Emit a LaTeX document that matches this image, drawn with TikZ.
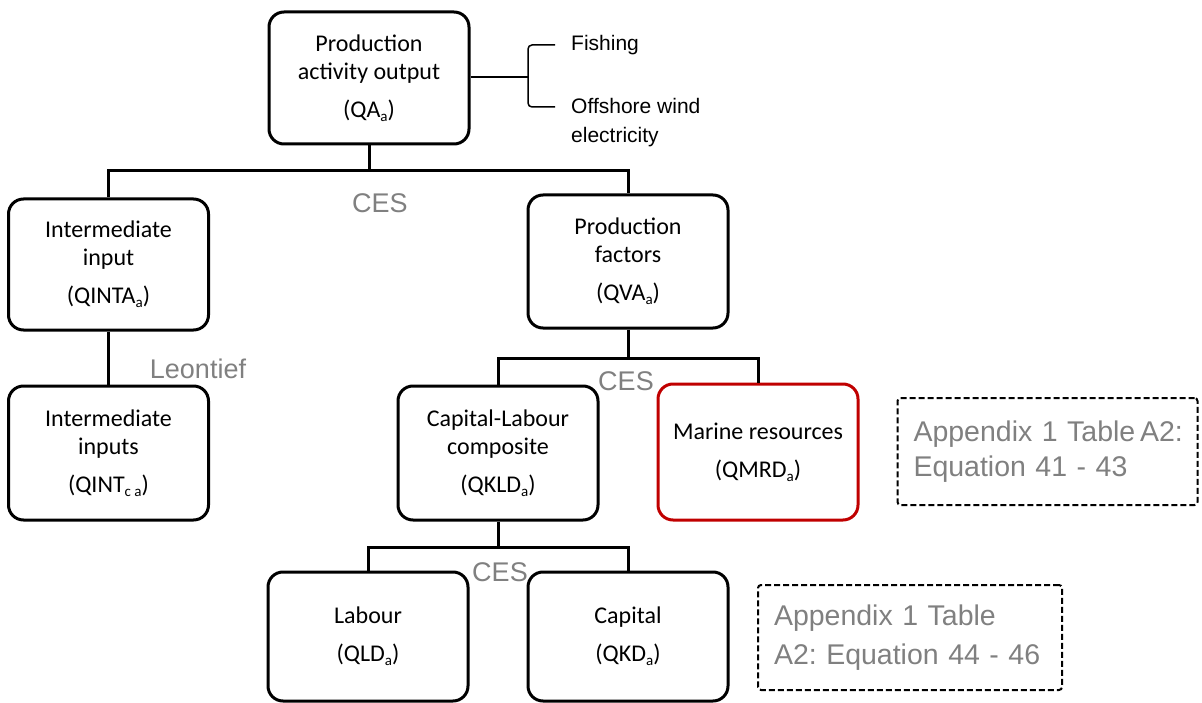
\documentclass[tikz,border=0pt]{standalone}
\usepackage{fontspec}
\setmainfont{Carlito}
\newfontfamily\arialfont{Liberation Sans}
\usetikzlibrary{calc}
\frenchspacing
\definecolor{labelgray}{HTML}{808080}
\definecolor{resred}{HTML}{C00000}
\newcommand{\boxfont}{\fontsize{24}{28}\selectfont}
\newcommand{\subs}[1]{\raisebox{-4pt}{\fontsize{15}{15}\selectfont #1}}
\tikzset{
  blockbox/.style={draw, line width=3pt, rounded corners=15pt, minimum width=200pt,
    minimum height=132pt, inner sep=0pt, align=center, font=\boxfont},
  conn/.style={line width=3pt},
  funclabel/.style={text=labelgray, font=\arialfont\fontsize{27}{30}\selectfont, inner sep=0pt},
  refbox/.style={draw, line width=2pt, dash pattern=on 6pt off 3pt, rounded corners=3pt,
    inner sep=0pt, text=labelgray, font=\arialfont\fontsize{28.5}{35}\selectfont, align=left},
  sidetext/.style={font=\arialfont\fontsize{21}{29}\selectfont, inner sep=0pt, align=left}
}
\begin{document}
\begin{tikzpicture}[x=1pt, y=-1pt]
\useasboundingbox (0,0) rectangle (1202,703);

% production tree
\node[blockbox] (qa) at (369,78) {Production\\activity output\\[10pt](QA\subs{a})};
\node[blockbox, minimum height=131pt] (qinta) at (108.5,264.5) {Intermediate\\input\\[10pt](QINTA\subs{a})};
\node[blockbox, minimum height=133pt] (qva) at (628,261.5) {Production\\factors\\[10pt](QVA\subs{a})};
\node[blockbox, minimum height=134pt] (qint) at (108.5,453) {Intermediate\\inputs\\[10pt](QINT\subs{c a})};
\node[blockbox, minimum height=134pt] (qkld) at (498,453) {Capital-Labour\\composite\\[10pt](QKLD\subs{a})};
\node[blockbox, draw=resred, minimum height=136pt] (qmrd) at (758,452) {Marine resources\\[10pt](QMRD\subs{a})};
\node[blockbox, minimum height=129pt] (qld) at (368,636.5) {Labour\\[10pt](QLD\subs{a})};
\node[blockbox, minimum height=129pt] (qkd) at (628,636.5) {Capital\\[10pt](QKD\subs{a})};

% branching connectors
\coordinate (j1) at (369,171);
\coordinate (j2) at (628,358);
\coordinate (j3) at (498,547);
\draw[conn] (qa.south) -- (j1);
\draw[conn] (qinta.north) |- (j1) -| (qva.north);
\draw[conn] (qinta.south) -- (qint.north);
\draw[conn] (qva.south) -- (j2);
\draw[conn] (qkld.north) |- (j2) -| (qmrd.north);
\draw[conn] (qkld.south) -- (j3);
\draw[conn] (qld.north) |- (j3) -| (qkd.north);

% functional forms
\node[funclabel] (ces1) at (380,203) {CES};
\node[funclabel] (leon) at (198,369) {Leontief};
\node[funclabel] (ces2) at (626,381) {CES};
\node[funclabel] (ces3) at (500,572) {CES};

% activity bracket
\coordinate (brk) at (528,77);
\node[sidetext, anchor=west] (fish) at (571,45) {Fishing};
\node[sidetext, anchor=west] (wind) at (571,123) {Offshore wind\\electricity};
\draw[line width=1.5pt] (qa.east |- brk) -- (brk);
\draw[line width=1.5pt, rounded corners=4pt] (555,45) -| (528,107) -- (555,107);

% equation references
\node[refbox, minimum width=300pt, minimum height=107pt, text width=268pt] (ref1) at (1047.5,451.5) {\mbox{Appendix 1 Table\,A2:}\\\mbox{Equation 41 - 43}};
\node[refbox, minimum width=304pt, minimum height=105pt, text width=272pt] (ref2) at (910,637.5) {\mbox{Appendix 1 Table}\\[4pt]\mbox{A2: Equation 44 - 46}};
\end{tikzpicture}
\end{document}
